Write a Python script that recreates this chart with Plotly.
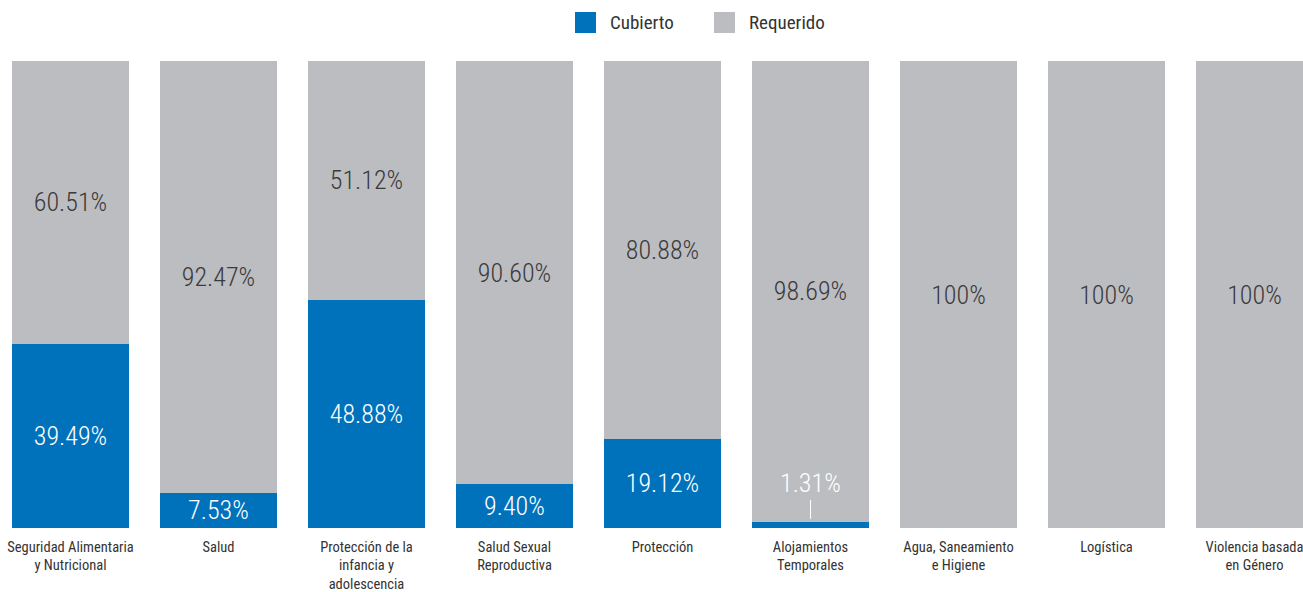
import plotly.graph_objects as go

categories = [
    "Seguridad Alimentaria<br>y Nutricional",
    "Salud",
    "Protección de la<br>infancia y<br>adolescencia",
    "Salud Sexual<br>Reproductiva",
    "Protección",
    "Alojamientos<br>Temporales",
    "Agua, Saneamiento<br>e Higiene",
    "Logística",
    "Violencia basada<br>en Género",
]
cubierto = [39.49, 7.53, 48.88, 9.40, 19.12, 1.31, 0, 0, 0]
requerido = [60.51, 92.47, 51.12, 90.60, 80.88, 98.69, 100, 100, 100]
series_names = ["Cubierto", "Requerido"]

BLUE = "#0072BC"
GRAY = "#BCBDC1"
FONT = "Roboto Condensed, Liberation Sans Narrow, Roboto, sans-serif"

W, H = 1303, 592
MT, MB = 61, 64
PLOT_H = H - MT - MB
PITCH = 148.0
FIRST_CENTER = 70.5


def fmt(v):
    if v == 100:
        return "100%"
    return f"{v:.2f}%"


def px_x(p):
    return p / W


def px_y(p):
    return (H - MB - p) / PLOT_H


x = list(range(len(categories)))
cub_text = [fmt(v) if v >= 5 else "" for v in cubierto]
req_text = [fmt(v) if v > 0 else "" for v in requerido]

fig = go.Figure()
fig.add_trace(go.Bar(
    name=series_names[0], x=x, y=cubierto, marker=dict(color=BLUE, line=dict(width=0)),
    text=cub_text, textposition="inside", insidetextanchor="middle",
    textfont=dict(color="white", size=26, family=FONT, weight=300), constraintext="none",
    hoverinfo="skip", showlegend=False,
))
fig.add_trace(go.Bar(
    name=series_names[1], x=x, y=requerido, marker=dict(color=GRAY, line=dict(width=0)),
    text=req_text, textposition="inside", insidetextanchor="middle",
    textfont=dict(color="#3a3a3a", size=26, family=FONT, weight=300), constraintext="none",
    hoverinfo="skip", showlegend=False,
))

for i, v in enumerate(cubierto):
    if 0 < v < 5:
        fig.add_annotation(
            x=i, y=v, xref="x", yref="y", text=fmt(v), showarrow=True,
            arrowhead=0, arrowwidth=1, arrowcolor="white", ax=0, ay=-22,
            yanchor="bottom", standoff=3,
            font=dict(color="white", size=26, family=FONT, weight=300),
        )

# manual legend (larger swatches than plotly's built-in legend)
legend_items = [(series_names[0], BLUE, 575), (series_names[1], GRAY, 714)]
for name, col, left in legend_items:
    fig.add_shape(
        type="rect", xref="paper", yref="paper",
        x0=px_x(left), x1=px_x(left + 21), y0=px_y(33), y1=px_y(12),
        fillcolor=col, line=dict(width=0),
    )
    fig.add_annotation(
        xref="paper", yref="paper", x=px_x(left + 33), y=px_y(22.5),
        text=name, showarrow=False, xanchor="left", yanchor="middle",
        font=dict(size=19, color="#333333", family=FONT),
    )

fig.update_layout(
    barmode="stack",
    bargap=0.21,
    width=W, height=H,
    margin=dict(l=0, r=0, t=MT, b=MB, autoexpand=False),
    paper_bgcolor="white", plot_bgcolor="white",
    font=dict(family=FONT, color="#333333"),
    showlegend=False,
    xaxis=dict(
        tickmode="array", tickvals=x, ticktext=categories,
        range=[-FIRST_CENTER / PITCH, -FIRST_CENTER / PITCH + W / PITCH],
        showgrid=False, zeroline=False, showline=False, ticks="",
        ticklabelstandoff=8, ticklabeloverflow="allow", automargin=False,
        tickfont=dict(size=14.5, color="#333333", family=FONT),
    ),
    yaxis=dict(range=[0, 100], visible=False, automargin=False),
)

fig.write_html(
    "out.html",
    config={"displayModeBar": False},
    post_script="document.body.style.margin='0';document.body.style.overflow='hidden';",
)
